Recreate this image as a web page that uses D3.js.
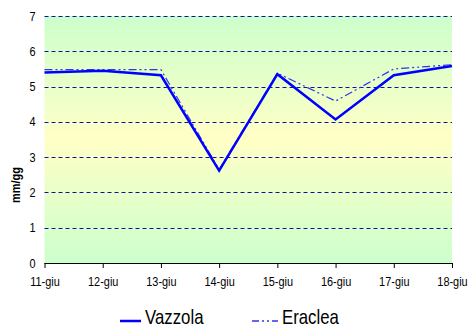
<!DOCTYPE html>
<html>
<head>
<meta charset="utf-8">
<script src="https://cdn.jsdelivr.net/npm/d3@7"></script>
<style>
  body { margin: 0; background: #fff; }
  svg text { font-family: "Liberation Sans", Arial, sans-serif; fill: #000; }
</style>
</head>
<body>
<div id="chart"></div>
<script>
(function () {
    "use strict";

    var days = ['11-giu', '12-giu', '13-giu', '14-giu', '15-giu', '16-giu', '17-giu', '18-giu'];
    var vazzola = [5.40, 5.45, 5.32, 2.62, 5.35, 4.07, 5.32, 5.58];
    var eraclea = [5.48, 5.48, 5.48, 2.65, 5.38, 4.59, 5.50, 5.62];
    var yTicks = [0, 1, 2, 3, 4, 5, 6, 7];

    var width = 469, height = 327;
    var margin = { top: 16, right: 17, bottom: 64, left: 44.5 };
    var plotW = width - margin.left - margin.right;
    var plotH = height - margin.top - margin.bottom;
    var narrow = 0.84; // the original font is a condensed one

    var svg = d3.select('#chart').append('svg')
        .attr('width', width)
        .attr('height', height);

    var defs = svg.append('defs');
    var grad = defs.append('linearGradient')
        .attr('id', 'bg').attr('x1', 0).attr('y1', 0).attr('x2', 0).attr('y2', 1);
    grad.append('stop').attr('offset', '0%').attr('stop-color', '#ccffcc');
    grad.append('stop').attr('offset', '50%').attr('stop-color', '#ffffc6');
    grad.append('stop').attr('offset', '100%').attr('stop-color', '#ccffcc');

    var g = svg.append('g')
        .attr('transform', 'translate(' + margin.left + ',' + margin.top + ')');

    var x = d3.scalePoint().domain(days).range([0, plotW]);
    var y = d3.scaleLinear().domain([0, 7]).range([plotH, 0]);

    g.append('rect')
        .attr('width', plotW).attr('height', plotH)
        .attr('fill', 'url(#bg)');

    // dashed grid lines
    g.selectAll('.grid-line')
        .data(yTicks.filter(function (d) { return d > 0; }))
        .enter().append('line')
        .attr('class', 'grid-line')
        .attr('x1', 0).attr('x2', plotW)
        .attr('y1', function (d) { return Math.round(y(d)) + 0.5; })
        .attr('y2', function (d) { return Math.round(y(d)) + 0.5; })
        .attr('stroke', '#1010a0')
        .attr('stroke-width', 1)
        .attr('stroke-dasharray', '4,3');

    // y tick labels
    g.selectAll('.y-label')
        .data(yTicks)
        .enter().append('text')
        .attr('class', 'y-label')
        .attr('transform', function (d) { return 'translate(-9,' + y(d) + ') scale(' + narrow + ',1)'; })
        .attr('dy', '0.35em')
        .attr('text-anchor', 'end')
        .style('font-size', '13px')
        .text(function (d) { return d; });

    // x axis
    var xAxis = d3.axisBottom(x).tickSize(5).tickPadding(9);
    var xg = g.append('g')
        .attr('transform', 'translate(0,' + plotH + ')')
        .call(xAxis);
    xg.select('.domain').attr('stroke', '#000').attr('d', 'M0,0.5H' + plotW);
    xg.selectAll('.tick line').attr('stroke', '#000');
    xg.selectAll('.tick text')
        .style('font-size', '13px')
        .attr('transform', 'scale(' + narrow + ',1)')
        .attr('font-family', null);

    // y title
    svg.append('text')
        .attr('transform', 'translate(20,185) rotate(-90) scale(' + narrow + ',1)')
        .attr('text-anchor', 'middle')
        .style('font-size', '13px')
        .style('font-weight', 'bold')
        .text('mm/gg');

    var line = d3.line()
        .x(function (d, i) { return x(days[i]); })
        .y(function (d) { return y(d); });

    g.append('path')
        .datum(eraclea)
        .attr('fill', 'none')
        .attr('stroke', '#3333ee')
        .attr('stroke-width', 1.2)
        .attr('stroke-dasharray', '8,3,2,3,2,3')
        .attr('d', line);

    g.append('path')
        .datum(vazzola)
        .attr('fill', 'none')
        .attr('stroke', '#0000ff')
        .attr('stroke-width', 2.5)
        .attr('stroke-linejoin', 'miter')
        .attr('d', line);

    // legend
    var legend = svg.append('g');
    legend.append('line')
        .attr('x1', 120).attr('x2', 141).attr('y1', 321).attr('y2', 321)
        .attr('stroke', '#0000ff').attr('stroke-width', 2.5);
    legend.append('text')
        .attr('transform', 'translate(145,324) scale(' + narrow + ',1)')
        .style('font-size', '20px')
        .text('Vazzola');
    legend.append('line')
        .attr('x1', 252).attr('x2', 278).attr('y1', 321).attr('y2', 321)
        .attr('stroke', '#3333ee').attr('stroke-width', 1.5)
        .attr('stroke-dasharray', '7,3,2,3,2,3');
    legend.append('text')
        .attr('transform', 'translate(282,324) scale(' + narrow + ',1)')
        .style('font-size', '20px')
        .text('Eraclea');
})();
</script>
</body>
</html>
